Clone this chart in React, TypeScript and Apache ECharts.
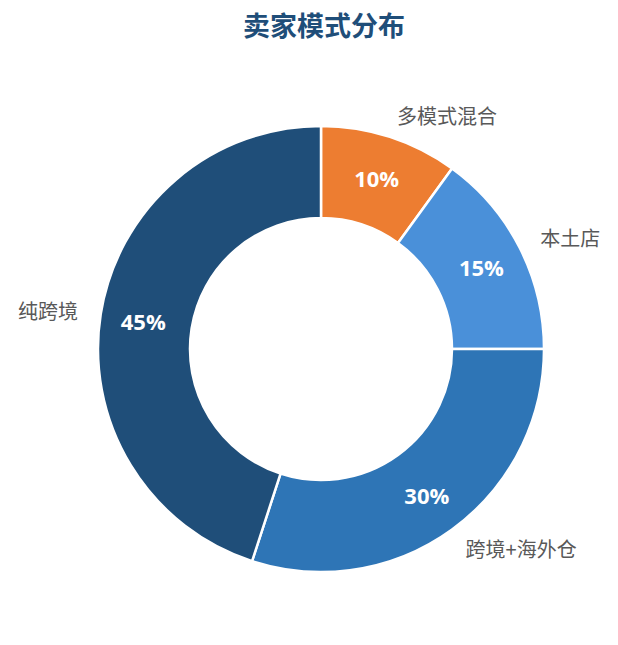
import { useEffect, useRef } from 'react'
import * as echarts from 'echarts'

const categories = ['多模式混合', '本土店', '跨境+海外仓', '纯跨境']
const shares = [10, 15, 30, 45]
const colors = ['#ED7D31', '#4A90D9', '#2E75B6', '#1F4E79']

const CENTER: [number, number] = [321, 349]
const RADIUS: [number, number] = [131, 223]

export default function App() {
  const ref = useRef<HTMLDivElement>(null)

  useEffect(() => {
    document.body.style.margin = '0'
    if (!ref.current) return
    const chart = echarts.init(ref.current, undefined, { renderer: 'svg' })

    const data = categories.map((name, i) => ({
      name,
      value: shares[i],
      itemStyle: { color: colors[i] },
    }))

    const option: echarts.EChartsOption = {
      animation: false,
      title: {
        text: '卖家模式分布',
        left: 238,
        top: 6,
        textStyle: {
          fontSize: 27,
          fontWeight: 'bold',
          color: '#1F4E79',
          fontFamily: '"Noto Sans CJK SC", sans-serif',
        },
      },
      series: [
        {
          // outside category names
          type: 'pie',
          silent: true,
          center: CENTER,
          radius: RADIUS,
          startAngle: 90,
          clockwise: true,
          z: 1,
          itemStyle: { color: 'transparent' },
          data: categories.map((name, i) => ({ name, value: shares[i] })),
          label: {
            show: true,
            position: 'outside',
            formatter: '{b}',
            fontSize: 20,
            color: '#595959',
            fontFamily: '"Noto Sans CJK SC", sans-serif',
            distanceToLabelLine: 0,
          },
          labelLine: { show: false, length: 23, length2: 0 },
        },
        {
          type: 'pie',
          center: CENTER,
          radius: RADIUS,
          startAngle: 90,
          clockwise: true,
          z: 2,
          data,
          itemStyle: { borderColor: '#ffffff', borderWidth: 2.5 },
          label: {
            show: true,
            position: 'inside',
            formatter: '{c}%',
            fontSize: 22,
            fontWeight: 'bold',
            color: '#ffffff',
            fontFamily: '"Open Sans", "Noto Sans", sans-serif',
          },
          labelLine: { show: false },
        },
      ],
    }

    chart.setOption(option)
    return () => chart.dispose()
  }, [])

  return <div ref={ref} style={{ width: 618, height: 645 }} />
}
